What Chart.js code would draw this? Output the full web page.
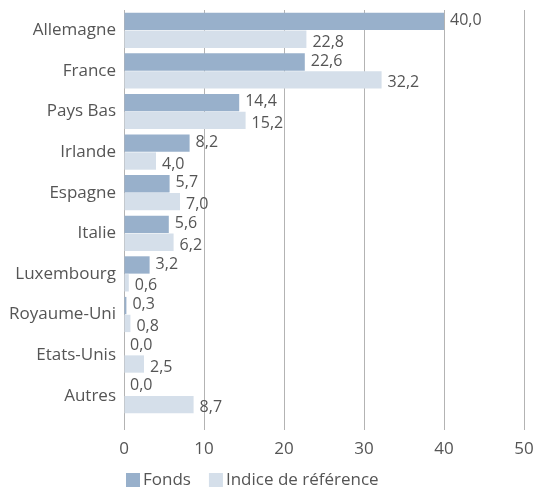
<!DOCTYPE html>
<html>
<head>
<meta charset="utf-8">
<script src="https://cdn.jsdelivr.net/npm/chart.js@4/dist/chart.umd.min.js"></script>
<style>
  html, body { margin: 0; padding: 0; background: #fff; }
  #wrap { width: 537px; height: 490px; position: relative; }
</style>
</head>
<body>
<div id="wrap"><canvas id="chart"></canvas></div>
<script>
// --- DATA ---
const countries = ['Allemagne', 'France', 'Pays Bas', 'Irlande', 'Espagne', 'Italie', 'Luxembourg', 'Royaume-Uni', 'Etats-Unis', 'Autres'];
const fonds = [40.0, 22.6, 14.4, 8.2, 5.7, 5.6, 3.2, 0.3, 0.0, 0.0];
const indice = [22.8, 32.2, 15.2, 4.0, 7.0, 6.2, 0.6, 0.8, 2.5, 8.7];
const xTicks = [0, 10, 20, 30, 40, 50];

const FONT = "'Open Sans', sans-serif";
const TEXT = '#555555';
const FONDS_COLOR = '#98b0cb';
const INDICE_COLOR = '#d5dfea';

// value labels next to each bar
const valueLabels = {
    id: 'valueLabels',
    afterDatasetsDraw(chart) {
        const ctx = chart.ctx;
        ctx.save();
        ctx.font = '16px ' + FONT;
        ctx.fillStyle = TEXT;
        ctx.textAlign = 'left';
        ctx.textBaseline = 'middle';
        chart.data.datasets.forEach((ds, i) => {
            chart.getDatasetMeta(i).data.forEach((bar, j) => {
                const txt = ds.data[j].toFixed(1).replace('.', ',');
                ctx.fillText(txt, bar.x + 6, bar.y + (i === 0 ? -1 : 3));
            });
        });
        ctx.restore();
    }
};

// legend at bottom (custom, to place it like the original)
const bottomLegend = {
    id: 'bottomLegend',
    afterDraw(chart) {
        const ctx = chart.ctx;
        const y = 480;
        let x = 126;
        ctx.save();
        ctx.font = '17px ' + FONT;
        ctx.textBaseline = 'middle';
        chart.data.datasets.forEach(ds => {
            ctx.fillStyle = ds.backgroundColor;
            ctx.fillRect(x, y - 7, 14, 14);
            ctx.fillStyle = TEXT;
            ctx.fillText(ds.label, x + 17, y);
            x += 17 + ctx.measureText(ds.label).width + 18;
        });
        ctx.restore();
    }
};

new Chart(document.getElementById('chart'), {
    type: 'bar',
    data: {
        labels: countries,
        datasets: [
            { label: 'Fonds', data: fonds, backgroundColor: FONDS_COLOR },
            { label: 'Indice de référence', data: indice, backgroundColor: INDICE_COLOR }
        ]
    },
    options: {
        indexAxis: 'y',
        responsive: true, maintainAspectRatio: false,
        animation: false,
        layout: { padding: { top: 10, right: 13, bottom: 0, left: 0 } },
        datasets: { bar: { categoryPercentage: 0.88, barPercentage: 0.97 } },
        scales: {
            x: {
                min: 0, max: 50,
                afterBuildTicks: axis => { axis.ticks = xTicks.map(v => ({ value: v })); },
                afterFit: axis => { axis.height = 74; axis.paddingLeft = 0; axis.paddingRight = 0; },
                grid: { color: '#b3b3b3', lineWidth: 1, tickLength: 14, drawOnChartArea: true },
                border: { display: false },
                ticks: { color: TEXT, font: { family: FONT, size: 17 }, padding: 9 }
            },
            y: {
                afterFit: axis => { axis.width = 124; axis.paddingTop = 0; axis.paddingBottom = 0; },
                grid: { display: false },
                border: { display: false },
                ticks: { color: TEXT, font: { family: FONT, size: 17 }, padding: 0 }
            }
        },
        plugins: {
            legend: { display: false },
            tooltip: { enabled: false }
        }
    },
    plugins: [valueLabels, bottomLegend]
});
</script>
</body>
</html>
